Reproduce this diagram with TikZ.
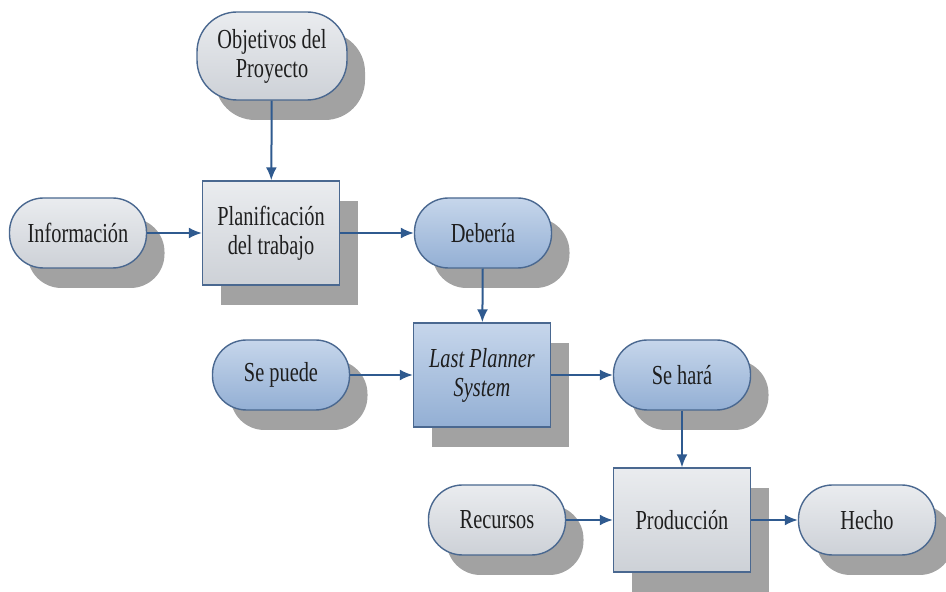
\documentclass[tikz,border=0pt]{standalone}
\usepackage{fontspec}
\setmainfont{Liberation Serif}[FakeStretch=0.74]
\usepackage{tikz}
\usetikzlibrary{arrows.meta,shadows}

\definecolor{borde}{HTML}{4A6890}
\definecolor{flechaazul}{HTML}{2F5A8F}
\definecolor{sombra}{HTML}{A2A2A2}
\definecolor{grisarriba}{HTML}{EAECEF}
\definecolor{grisabajo}{HTML}{CDD1D7}
\definecolor{azularriba}{HTML}{C6D6EB}
\definecolor{azulabajo}{HTML}{93AFD4}
\definecolor{texto}{HTML}{1E1E1E}

\tikzset{
	caja/.style={draw=borde,line width=1.4pt,align=center,inner sep=0pt,text=texto,
		font=\fontsize{27.5}{29}\selectfont,
		drop shadow={shadow xshift=18pt,shadow yshift=-20pt,fill=sombra,opacity=1}},
	gris/.style={top color=grisarriba,bottom color=grisabajo},
	azul/.style={top color=azularriba,bottom color=azulabajo},
	etapa/.style={caja,rectangle,minimum width=137pt,minimum height=104pt},
	estado/.style={caja,rectangle,rounded corners=34pt,minimum width=137pt,minimum height=70pt},
	flecha/.style={draw=flechaazul,line width=2pt,-{Latex[length=13pt,width=11pt]}}
}

\begin{document}
\begin{tikzpicture}[x=1pt,y=1pt]
			\useasboundingbox (0,0) rectangle (946,592);
			% fila de arriba
			\node [estado,gris,minimum width=150pt,minimum height=88pt,rounded corners=40pt] (obj) at (272,536) {Objetivos del\\Proyecto};
			\node [estado,gris] (info) at (78,359) {Información};
			\node [etapa,gris] (plan) at (271,359) {Planificación\\del trabajo};
			\node [estado,azul] (deb) at (483,359) {Debería};
			% fila del medio
			\node [estado,azul] (sepuede) at (281,217) {Se puede};
			\node [etapa,azul] (lps) at (482,217) {\itshape Last Planner\\\itshape System};
			\node [estado,azul] (sehara) at (682,217) {Se hará};
			% fila de abajo
			\node [estado,gris] (rec) at (497,72) {Recursos};
			\node [etapa,gris] (prod) at (682,72) {Producción};
			\node [estado,gris] (hecho) at (867,72) {Hecho};
			% flechas
			\draw [flecha] (obj) -- (plan);
			\draw [flecha] (info) -- (plan);
			\draw [flecha] (plan) -- (deb);
			\draw [flecha] (deb) -- (lps);
			\draw [flecha] (sepuede) -- (lps);
			\draw [flecha] (lps) -- (sehara);
			\draw [flecha] (sehara) -- (prod);
			\draw [flecha] (rec) -- (prod);
			\draw [flecha] (prod) -- (hecho);
		\end{tikzpicture}
\end{document}
